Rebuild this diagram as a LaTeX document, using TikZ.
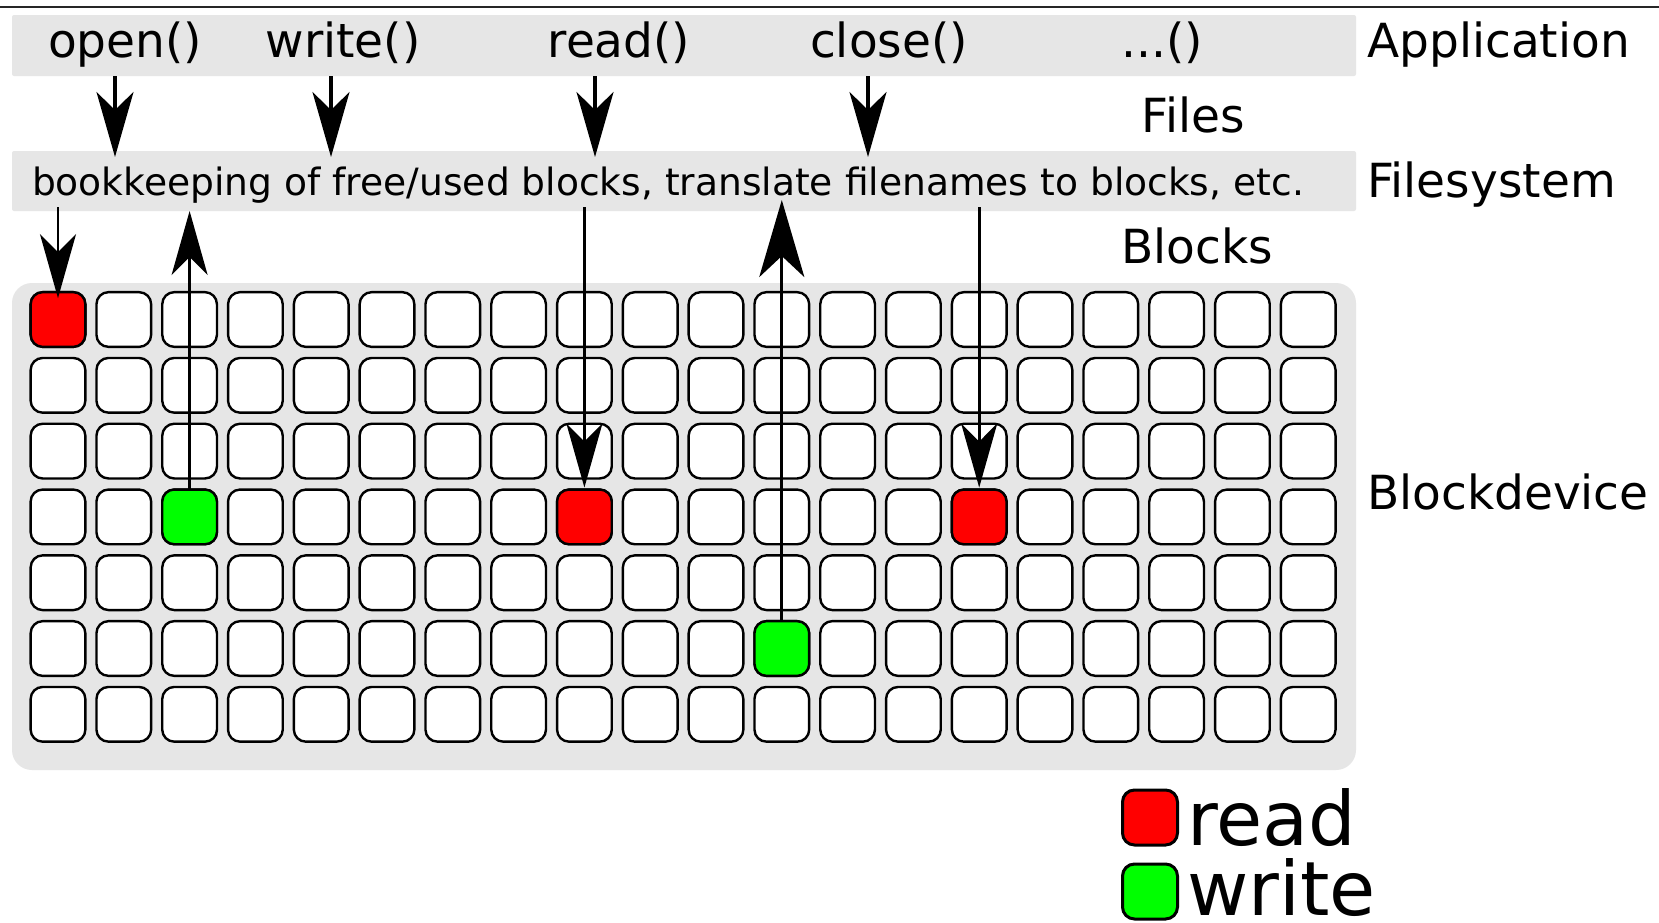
\documentclass[tikz,border=0pt]{standalone}
\usepackage{fontspec}
\setmainfont{DejaVu Sans}
\usetikzlibrary{arrows.meta}
\definecolor{bandgray}{HTML}{E6E6E6}
\definecolor{rdcol}{HTML}{FF0000}
\definecolor{wrcol}{HTML}{00FF00}
\begin{document}
\begin{tikzpicture}[x=1pt,y=-1pt,
  band/.style={fill=bandgray, draw=none, rounded corners=2pt, inner sep=0pt, outer sep=0pt},
  cell/.style={draw=black, line width=2.4pt, fill=white, rounded corners=12pt,
    minimum width=54.7pt, minimum height=54.7pt, inner sep=0pt, outer sep=0pt},
  rdcell/.style={cell, fill=rdcol},
  wrcell/.style={cell, fill=wrcol},
  lgbox/.style={draw=black, line width=3pt, rounded corners=12pt,
    minimum width=55pt, minimum height=55pt, inner sep=0pt, outer sep=0pt},
  lbl/.style={font=\fontsize{47}{56}\selectfont, anchor=base, inner sep=0pt},
  lbll/.style={lbl, anchor=base west},
  fstext/.style={font=\fontsize{37.6}{45}\selectfont, anchor=base, inner sep=0pt},
  lgtext/.style={font=\fontsize{75}{90}\selectfont, anchor=base west, inner sep=0pt},
  arrtop/.style={line width=3.3pt, -{Stealth[length=65pt,width=37pt,inset=18pt]}},
  arrlow/.style={line width=2.8pt, -{Stealth[length=64pt,width=36pt,inset=18pt]}},
  arrbig/.style={line width=3.3pt, -{Stealth[length=77pt,width=45pt,inset=21pt]}}
]
\useasboundingbox (0,0) rectangle (1659,922);
\fill[white] (0,0) rectangle (1659,922);

% top rule
\coordinate (ruleL) at (0,7);
\coordinate (ruleR) at (1659,7);
\draw[line width=1.5pt, black!85] (ruleL) -- (ruleR);

% bands
\node[band, minimum width=1344pt, minimum height=61pt] (app) at (684,45.5) {};
\node[band, minimum width=1344pt, minimum height=60pt] (fs) at (684,181) {};
\node[band, rounded corners=20pt, minimum width=1344pt, minimum height=487pt] (dev) at (684,526.5) {};

% application calls
\node[lbl] (fopen)  at (125,57)  {open()};
\node[lbl] (fwrite) at (343,57)  {write()};
\node[lbl] (fread)  at (619,57)  {read()};
\node[lbl] (fclose) at (889,57)  {close()};
\node[lbl] (fmore)  at (1162,57) {...()};

% layer labels
\node[lbll] (lapp) at (1367,57)  {Application};
\node[lbl]  (lfiles) at (1193,132) {Files};
\node[lbll] (lfs)  at (1367,197) {Filesystem};
\node[lbl]  (lblocks) at (1197,263) {Blocks};
\node[lbll] (ldev) at (1367,509) {Blockdevice};

% filesystem text
\node[fstext] (fstxt) at (668,195) {bookkeeping of free/used blocks, translate filenames to blocks, etc.};

% grid of blocks
\foreach \i in {0,...,6}{
  \foreach \j in {0,...,19}{
    \node[cell] (c-\i-\j) at ({58+65.8*\j},{319.5+65.8*\i}) {};
  }
}
\node[rdcell] (c-0-0)  at ({58+65.8*0},{319.5+65.8*0}) {};
\node[rdcell] (c-3-8)  at ({58+65.8*8},{319.5+65.8*3}) {};
\node[rdcell] (c-3-14) at ({58+65.8*14},{319.5+65.8*3}) {};
\node[wrcell] (c-3-2)  at ({58+65.8*2},{319.5+65.8*3}) {};
\node[wrcell] (c-5-11) at ({58+65.8*11},{319.5+65.8*5}) {};

% arrows application -> filesystem
\coordinate (t-open)  at (115,157);
\coordinate (t-write) at (331,157);
\coordinate (t-read)  at (595,157);
\coordinate (t-close) at (868,157);
\draw[arrtop] (app.south -| t-open)  -- (t-open);
\draw[arrtop] (app.south -| t-write) -- (t-write);
\draw[arrtop] (app.south -| t-read)  -- (t-read);
\draw[arrtop] (app.south -| t-close) -- (t-close);

% arrows filesystem <-> blocks
\draw[arrlow] ([yshift=4pt]fs.south -| c-0-0) -- ([yshift=-6pt]c-0-0.north);
\draw[arrlow] (c-3-2.north) -- (fs.south -| c-3-2);
\draw[arrlow] ([yshift=4pt]fs.south -| c-3-8) -- ([yshift=2pt]c-3-8.north);
\draw[arrbig] (c-5-11.north) -- ([yshift=11pt]fs.south -| c-5-11);
\draw[arrlow] ([yshift=4pt]fs.south -| c-3-14) -- ([yshift=2pt]c-3-14.north);

% legend
\node[lgbox, fill=rdcol] (lgr) at (1150,817.5) {};
\node[lgbox, fill=wrcol] (lgw) at (1150,891.5) {};
\node[lgtext] (lgrt) at (1187,845) {read};
\node[lgtext] (lgwt) at (1187,915) {write};
\end{tikzpicture}
\end{document}
